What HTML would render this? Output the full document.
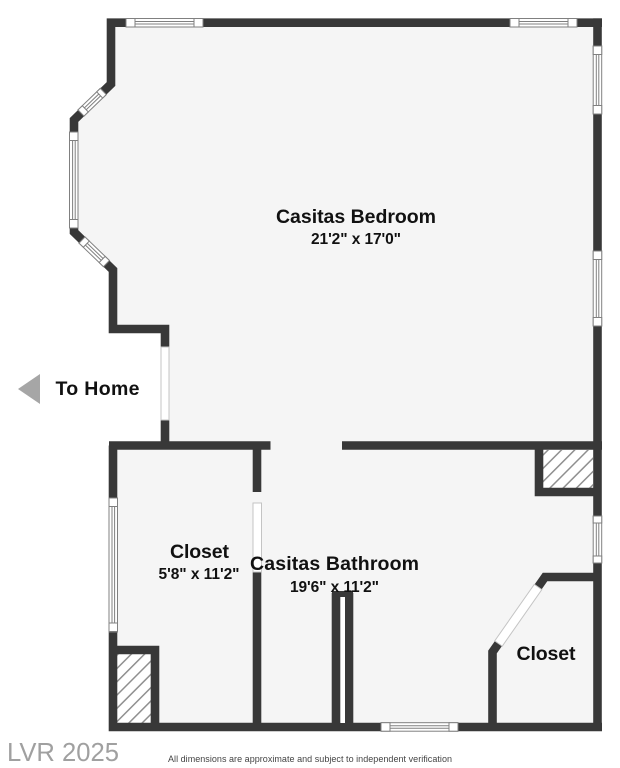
<!DOCTYPE html>
<html><head><meta charset="utf-8">
<style>
html,body{margin:0;padding:0;background:#fff;width:620px;height:768px;overflow:hidden}
svg{display:block;filter:blur(.35px)}
text{font-family:"Liberation Sans",sans-serif;font-weight:bold;fill:#111;text-anchor:middle}
.w{fill:none;stroke:#383838;stroke-width:8.6;stroke-linejoin:miter;stroke-linecap:butt}
.win{fill:#fff;stroke:#808080;stroke-width:1}
.d{fill:#fff;stroke:#c4c4c4;stroke-width:1}
</style></head>
<body>
<svg width="620" height="768" viewBox="0 0 620 768" xmlns="http://www.w3.org/2000/svg">
<defs>
<pattern id="h" width="9.400" height="9.400" patternUnits="userSpaceOnUse" patternTransform="rotate(45)">
<rect width="9.400" height="9.400" fill="#fff"/><rect x="0" width="1.500" height="9.400" fill="#8f8f8f"/>
</pattern>
</defs>
<polygon fill="#f5f5f5" points="111,23 597,23 597,727 113,727 113,445 165,445 165,329 113,329 113,270 74,232 74,120 111,84"/>
<rect x="117" y="654" width="34" height="69" fill="url(#h)"/>
<rect x="543" y="450" width="50" height="38" fill="url(#h)"/>
<polyline class="w" points="602,22.7 111,22.7 111,84 74,120 74,232 113,270 113,329 165,329 165,445"/>
<polyline class="w" points="597.5,18.4 597.5,731"/>
<polyline class="w" points="113,445.5 113,727 602,727"/>
<line class="w" x1="109" y1="445.5" x2="270.500" y2="445.500"/>
<line class="w" x1="342" y1="445.5" x2="602" y2="445.500"/>
<line class="w" x1="257" y1="445" x2="257" y2="492"/>
<line class="w" x1="257" y1="572" x2="257" y2="727"/>
<polyline class="w" points="539,446 539,492 597,492"/>
<polyline class="w" points="113,650 155,650 155,727"/>
<line class="w" x1="336" y1="593" x2="336" y2="727"/>
<line class="w" x1="349" y1="593" x2="349" y2="727"/>
<rect x="332" y="591" width="21" height="6" fill="#383838"/>
<polyline class="w" points="597,577 545,577 492.500,652 492.500,727"/>
<!-- doors -->
<rect class="d" x="161" y="347" width="8" height="73"/>
<rect class="d" x="253" y="503" width="8.500" height="69"/>
<rect x="340.500" y="597" width="4.500" height="126" fill="#fff"/>
<g transform="translate(498.500,643.500) rotate(-55)"><rect class="d" x="0" y="-4.600" width="69" height="9.200"/></g>
<!-- top / bottom windows -->
<g><rect class="win" x="126" y="18.500" width="77" height="8.500"/><rect class="win" x="126" y="18.500" width="9" height="8.500"/><rect class="win" x="194" y="18.500" width="9" height="8.500"/><line x1="135" x2="194" y1="21.500" y2="21.500" stroke="#808080"/><line x1="135" x2="194" y1="24" y2="24" stroke="#808080"/></g>
<g><rect class="win" x="510" y="18.500" width="67" height="8.500"/><rect class="win" x="510" y="18.500" width="9" height="8.500"/><rect class="win" x="568" y="18.500" width="9" height="8.500"/><line x1="519" x2="568" y1="21.500" y2="21.500" stroke="#808080"/><line x1="519" x2="568" y1="24" y2="24" stroke="#808080"/></g>
<g><rect class="win" x="381" y="722.700" width="77" height="8.500"/><rect class="win" x="381" y="722.700" width="9" height="8.500"/><rect class="win" x="449" y="722.700" width="9" height="8.500"/><line x1="390" x2="449" y1="725.700" y2="725.700" stroke="#808080"/><line x1="390" x2="449" y1="728.200" y2="728.200" stroke="#808080"/></g>
<!-- right windows -->
<g><rect class="win" x="593.200" y="46" width="8.500" height="68"/><rect class="win" x="593.200" y="46" width="8.500" height="8.500"/><rect class="win" x="593.200" y="105.500" width="8.500" height="8.500"/><line x1="596.300" x2="596.300" y1="54" y2="105" stroke="#808080"/><line x1="598.800" x2="598.800" y1="54" y2="105" stroke="#808080"/></g>
<g><rect class="win" x="593.200" y="251" width="8.500" height="75"/><rect class="win" x="593.200" y="251" width="8.500" height="8.500"/><rect class="win" x="593.200" y="317.500" width="8.500" height="8.500"/><line x1="596.300" x2="596.300" y1="259" y2="317" stroke="#808080"/><line x1="598.800" x2="598.800" y1="259" y2="317" stroke="#808080"/></g>
<g><rect class="win" x="593.200" y="516" width="8.500" height="47"/><rect class="win" x="593.200" y="516" width="8.500" height="7"/><rect class="win" x="593.200" y="556" width="8.500" height="7"/><line x1="596.300" x2="596.300" y1="523" y2="556" stroke="#808080"/><line x1="598.800" x2="598.800" y1="523" y2="556" stroke="#808080"/></g>
<!-- left windows -->
<g><rect class="win" x="69.500" y="132" width="8.500" height="96"/><rect class="win" x="69.500" y="132" width="8.500" height="8.500"/><rect class="win" x="69.500" y="219.500" width="8.500" height="8.500"/><line x1="72.600" x2="72.600" y1="140" y2="220" stroke="#808080"/><line x1="75.200" x2="75.200" y1="140" y2="220" stroke="#808080"/></g>
<g><rect class="win" x="109" y="498" width="8.500" height="134"/><rect class="win" x="109" y="498" width="8.500" height="8.500"/><rect class="win" x="109" y="623" width="8.500" height="8.500"/><line x1="112" x2="112" y1="506" y2="623" stroke="#808080"/><line x1="114.600" x2="114.600" y1="506" y2="623" stroke="#808080"/></g>
<g transform="translate(81,113) rotate(-44)"><rect class="win" x="0" y="-4.300" width="31" height="8.600"/><rect class="win" x="0" y="-4.300" width="6" height="8.600"/><rect class="win" x="26" y="-4.300" width="5" height="8.600"/><line x1="6" x2="26" y1="-1.300" y2="-1.300" stroke="#808080"/><line x1="6" x2="26" y1="1.300" y2="1.300" stroke="#808080"/></g>
<g transform="translate(82,240) rotate(44)"><rect class="win" x="0" y="-4.300" width="34" height="8.600"/><rect class="win" x="0" y="-4.300" width="6" height="8.600"/><rect class="win" x="28" y="-4.300" width="6" height="8.600"/><line x1="6" x2="28" y1="-1.300" y2="-1.300" stroke="#808080"/><line x1="6" x2="28" y1="1.300" y2="1.300" stroke="#808080"/></g>
<!-- arrow -->
<polygon points="18,389 40,374 40,404" fill="#a6a6a6"/>
<!-- labels -->
<text x="356" y="223" font-size="19.500" textLength="160" lengthAdjust="spacing">Casitas Bedroom</text>
<text x="356" y="244" font-size="15.500" textLength="90" lengthAdjust="spacing">21'2" x 17'0"</text>
<text x="97.500" y="395" font-size="19.500" textLength="84" lengthAdjust="spacing">To Home</text>
<text x="199.500" y="558" font-size="19.500" textLength="59" lengthAdjust="spacing">Closet</text>
<text x="199" y="579" font-size="15.500" textLength="81" lengthAdjust="spacing">5'8" x 11'2"</text>
<text x="334.500" y="570" font-size="19.500" textLength="169" lengthAdjust="spacing">Casitas Bathroom</text>
<text x="334.500" y="592" font-size="15.500" textLength="89" lengthAdjust="spacing">19'6" x 11'2"</text>
<text x="546" y="660" font-size="19.500" textLength="59" lengthAdjust="spacing">Closet</text>
<text x="63" y="761" font-size="26" textLength="112" lengthAdjust="spacingAndGlyphs" style="font-weight:normal;fill:#a0a0a0">LVR 2025</text>
<text x="310" y="762" font-size="9" textLength="284" lengthAdjust="spacing" style="font-weight:normal;fill:#444">All dimensions are approximate and subject to independent verification</text>
</svg>
</body></html>
